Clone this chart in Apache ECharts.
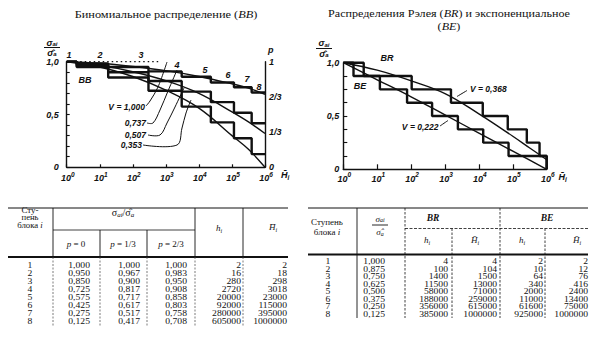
<!DOCTYPE html>
<html><head><meta charset="utf-8">
<script src="https://cdn.jsdelivr.net/npm/echarts@6.0.0/dist/echarts.min.js"></script>
<style>html,body{margin:0;padding:0;background:#fff;overflow:hidden}#c{width:598px;height:362px}</style>
</head><body><div id="c"></div><script>
// ===== DATA =====
const stepNumbers = [1,2,3,4,5,6,7,8];
// Binomial distribution (BB)
const bbRatioP0  = [1.000,0.950,0.850,0.725,0.575,0.425,0.275,0.125];
const bbRatioP13 = [1.000,0.967,0.900,0.817,0.717,0.617,0.517,0.417];
const bbRatioP23 = [1.000,0.983,0.950,0.908,0.858,0.803,0.758,0.708];
const bbH    = [2,16,280,2720,20000,92000,280000,605000];
const bbHcum = [2,18,298,3018,23000,115000,395000,1000000];
// Rayleigh (BR) and exponential (BE)
const reRatio = [1.000,0.875,0.750,0.625,0.500,0.375,0.250,0.125];
const brH    = [4,100,1400,11500,58000,188000,356000,385000];
const brHcum = [4,104,1500,13000,71000,259000,615000,1000000];
const beH    = [2,10,64,340,2000,11000,61600,925000];
const beHcum = [2,12,76,416,2400,13400,75000,1000000];
// smooth curves
const curveH     = [1,10,100,1000,10000,100000,316000,1000000];
const bbCurve737 = [1.000,0.985,0.955,0.915,0.860,0.790,0.750,0.690];
const bbCurve507 = [1.000,0.965,0.905,0.820,0.700,0.525,0.430,0.320];
const bbCurve353 = [1.000,0.950,0.860,0.730,0.560,0.300,0.170,0.000];
const bbLineV1H  = [1,700];
const bbLineV1   = [1.000,1.000];
const brCurve    = [1.000,0.930,0.830,0.710,0.520,0.310,0.200,0.090];
const beCurve    = [1.000,0.840,0.680,0.510,0.340,0.170,0.085,0.000];
// labels
const bbVLabels = ['V = 1,000','0,737','0,507','0,353'];
const reVLabels = ['V = 0,368','V = 0,222'];
const pTickLabels = ['0','1/3','2/3','1'];
const titleBB = ['Биномиальное распределение (', 'BB', ')'];
const titleRE1 = ['Распределения Рэлея (', 'BR', ') и экспоненциальное'];
const titleRE2 = ['(', 'BE', ')'];

// ===== HELPERS =====
const SERIF = '"Liberation Serif","DejaVu Serif",serif';
const SANS = '"Liberation Sans","DejaVu Sans",sans-serif';
const INK = '#111';
const fmt3 = v => v.toFixed(3).replace('.', ',');
function stairs(hcum, vals, dropToZero) {
  const d = [[1, vals[0]]];
  for (let i = 1; i < vals.length; i++) d.push([hcum[i-1], vals[i]]);
  d.push([hcum[hcum.length-1], vals[vals.length-1]]);
  if (dropToZero) d.push([hcum[hcum.length-1], 0]);
  return d;
}
const pairs = (xs, ys) => xs.map((x, i) => [x, ys[i]]);

const G = [];
function txt(x, y, text, o) {
  o = o || {};
  const st = {text: text, fill: o.fill || INK, font: o.font || ('9.5px ' + SERIF),
    align: o.align || 'center', verticalAlign: o.va || 'middle',
    textAlign: o.align || 'center', textVerticalAlign: o.va || 'middle'};
  if (o.rich) st.rich = o.rich;
  const el = {type: 'text', x: x, y: y, z: 20, silent: true, style: st};
  if (o.sx) el.scaleX = o.sx;
  G.push(el);
}
function line(x1, y1, x2, y2, w, dash, color) {
  G.push({type: 'line', z: 20, silent: true, shape: {x1, y1, x2, y2},
    style: {stroke: color || INK, lineWidth: w || 1, lineDash: dash || null}});
}
function poly(points, w) {
  G.push({type: 'polyline', z: 20, silent: true, shape: {points: points, smooth: 0.35},
    style: {stroke: INK, lineWidth: w || 1, fill: null}});
}
function subRich(size, fam, italicBase, bold, lh) {
  const fw = bold ? 'bold' : 'normal';
  const L = lh || (size + 3);
  const ss = Math.round(size * 0.68);
  return {
    n: {fontSize: size, fontFamily: fam, fontStyle: italicBase ? 'italic' : 'normal', fontWeight: fw, lineHeight: L, verticalAlign: 'middle', color: INK},
    i: {fontSize: size, fontFamily: fam, fontStyle: 'italic', fontWeight: fw, lineHeight: L, verticalAlign: 'middle', color: INK},
    s: {fontSize: ss, fontFamily: fam, fontStyle: 'italic', fontWeight: fw, lineHeight: ss, verticalAlign: 'bottom', color: INK}
  };
}

// ===== TITLES =====
const titleRich = {n: {fontSize: 11, fontFamily: SERIF, color: INK, lineHeight: 11},
                   i: {fontSize: 11, fontFamily: SERIF, fontStyle: 'italic', color: INK, lineHeight: 11}};
txt(166, 15, '{n|' + titleBB[0] + '}{i|' + titleBB[1] + '}{n|' + titleBB[2] + '}', {rich: titleRich, sx: 1.12});
txt(449, 13.5, '{n|' + titleRE1[0] + '}{i|' + titleRE1[1] + '}{n|' + titleRE1[2] + '}', {rich: titleRich, sx: 1.1});
txt(449, 26.8, '{n|' + titleRE2[0] + '}{i|' + titleRE2[1] + '}{n|' + titleRE2[2] + '}', {rich: titleRich, sx: 1.1});

// ===== AXIS TITLES (fraction) =====
const axRich = subRich(9, SANS, true, true, 9);
function fracTitle(cx, yTop, yBar, yBot) {
  txt(cx, yTop, '{n|σ}{s|ai}', {rich: axRich});
  line(cx - 8, yBar, cx + 8, yBar, 1);
  txt(cx, yBot, '{n|σ\u0302}{s|a}', {rich: axRich});
}
fracTitle(52, 42.5, 47.5, 52.5);
fracTitle(324, 43, 48.5, 53.5);

// ===== ANNOTATIONS =====
const annFont = 'italic bold 9px ' + SANS;
txt(85, 80, 'BB', {font: annFont});
txt(387, 58, 'BR', {font: annFont});
txt(360, 86, 'BE', {font: annFont});
txt(268, 50, 'p', {font: annFont, align: 'left'});
const stepLabelPx = [[69,55],[100,55],[141,55],[177,65],[205,70],[228,75],[247,79],[259,87]];
stepNumbers.forEach((n, i) => txt(stepLabelPx[i][0], stepLabelPx[i][1], String(n), {font: annFont}));
const vFont = 'italic bold 8.5px ' + SANS;
txt(145, 107, bbVLabels[0], {font: vFont, align: 'right'});
txt(146, 123, bbVLabels[1], {font: vFont, align: 'right'});
txt(146, 134.5, bbVLabels[2], {font: vFont, align: 'right'});
txt(142, 145, bbVLabels[3], {font: vFont, align: 'right'});
poly([[146,106],[150,101],[158,87],[167,62]], 1);
poly([[147,123],[153,123],[160,110],[168,91],[177,70]], 1);
poly([[148,135],[160,135],[167,123],[175,107],[184,88]], 1);
poly([[143,145],[177,145],[182,128],[186,113],[191,100]], 1);
txt(470, 88.5, reVLabels[0], {font: vFont, align: 'left'});
poly([[467,90.5],[457,96.5]], 1);
txt(438.5, 126.5, reVLabels[1], {font: vFont, align: 'right'});
poly([[440,126],[448,120.5]], 1);

// ===== TABLES =====
// left table
(function () {
  const cellFont = '7.8px ' + SERIF, SX = 1.24;
  const x0 = 8, x1 = 288, top = 208, hsep = 230, thick = 257, bot = 326;
  line(x0, top, x1, top, 1);
  line(53, hsep, 195, hsep, 0.8);
  line(x0, thick, x1, thick, 2.2);
  [53, 195, 243].forEach(x => line(x, top, x, thick, 0.9));
  [100, 147].forEach(x => line(x, hsep, x, thick, 0.9));
  [53, 100, 147, 195, 243].forEach(x => line(x, thick, x, bot, 0.7, [2, 1.5], '#444'));
  txt(30, 210.5, 'Сту-', {font: '7.5px ' + SERIF, sx: 1.2});
  txt(30, 218, 'пень', {font: '7.2px ' + SERIF, sx: 1.2});
  txt(30, 225.8, '{n|блока }{i|i}', {rich: subRich(7.3, SERIF, false, false, 7.3), sx: 1.2});
  txt(123, 212, '{n|σ}{s|ai}{n|/σ\u0302}{s|a}', {rich: subRich(10, SERIF, false, false)});
  const pr = subRich(9, SERIF, false, false);
  txt(76, 243.5, '{i|p}{n| = 0}', {rich: pr});
  txt(123, 243.5, '{i|p}{n| = 1/3}', {rich: pr});
  txt(171, 243.5, '{i|p}{n| = 2/3}', {rich: pr});
  txt(219, 228, '{i|h}{s|i}', {rich: pr});
  txt(273, 227, '{i|H\u0304}{s|i}', {rich: pr});
  const cols = [bbRatioP0.map(fmt3), bbRatioP13.map(fmt3), bbRatioP23.map(fmt3), bbH.map(String), bbHcum.map(String)];
  const rights = [90, 140, 187, 241, 287];
  stepNumbers.forEach((n, r) => {
    const y = 265.5 + r * 7.95;
    txt(30, y, String(n), {font: cellFont, sx: SX});
    cols.forEach((c, k) => txt(rights[k], y, c[r], {font: cellFont, align: 'right', sx: SX}));
  });
})();
// right table
(function () {
  const cellFont = '7.4px ' + SERIF, SX = 1.3;
  const x0 = 308, x1 = 588, top = 208, hsep = 228.5, thick = 254.5, bot = 318;
  line(x0, top, x1, top, 1);
  line(405, hsep, x1, hsep, 0.8, [3, 1.5]);
  line(x0, thick, x1, thick, 2.2);
  line(357, top, 357, bot, 0.9);
  [405, 500].forEach(x => line(x, top, x, bot, 0.8, [2.5, 1.5]));
  [452, 545].forEach(x => line(x, hsep, x, bot, 0.8, [2.5, 1.5]));
  txt(327, 221.5, 'Ступень', {font: '9px ' + SERIF});
  txt(327, 232, '{n|блока }{i|i}', {rich: subRich(9, SERIF, false, false, 9)});
  const fr = subRich(9, SERIF, true, false, 9);
  txt(380, 218.5, '{n|σ}{s|ai}', {rich: fr});
  line(372, 225, 388, 225, 0.9);
  txt(380, 232, '{n|σ\u0302}{s|a}', {rich: fr});
  txt(433, 218, 'BR', {font: 'italic bold 9.5px ' + SERIF});
  txt(547, 218, 'BE', {font: 'italic bold 9.5px ' + SERIF});
  const pr = subRich(9, SERIF, false, false);
  txt(427, 239.5, '{i|h}{s|i}', {rich: pr});
  txt(475, 239.5, '{i|H\u0304}{s|i}', {rich: pr});
  txt(522, 239.5, '{i|h}{s|i}', {rich: pr});
  txt(577, 239.5, '{i|H\u0304}{s|i}', {rich: pr});
  const cols = [reRatio.map(fmt3), brH.map(String), brHcum.map(String), beH.map(String), beHcum.map(String)];
  const rights = [385, 448, 497, 543, 588];
  stepNumbers.forEach((n, r) => {
    const y = 261.8 + r * 7.5;
    txt(328, y, String(n), {font: cellFont, sx: SX});
    cols.forEach((c, k) => txt(rights[k], y, c[r], {font: cellFont, align: 'right', sx: SX}));
  });
})();

// ===== AXES =====
const axLabelRich = {
  b: {fontSize: 9, fontStyle: 'italic', fontWeight: 'bold', fontFamily: SANS, color: INK, lineHeight: 12, verticalAlign: 'bottom'},
  s: {fontSize: 6.5, fontStyle: 'italic', fontWeight: 'bold', fontFamily: SANS, color: INK, lineHeight: 7, verticalAlign: 'top'}
};
const nameRich = {
  h: {fontSize: 9, fontStyle: 'italic', fontWeight: 'bold', fontFamily: SANS, color: INK, lineHeight: 12},
  s: {fontSize: 6.5, fontStyle: 'italic', fontWeight: 'bold', fontFamily: SANS, color: INK, lineHeight: 7, verticalAlign: 'bottom'}
};
function xAx(gi, tickLen, pad, gap, margin) {
  return {
    type: 'log', logBase: 10, min: 1, max: 1e6, gridIndex: gi,
    axisLine: {show: true, lineStyle: {color: INK, width: 1.4}},
    axisTick: {show: true, inside: true, length: tickLen, lineStyle: {color: INK, width: 1.2}},
    splitLine: {show: false},
    axisLabel: {margin: margin, padding: [0, 0, 0, pad],
      formatter: v => '{b|10}{s|' + Math.round(Math.log10(v)) + '}', rich: axLabelRich},
    name: '{h|H\u0304}{s|i}', nameLocation: 'end', nameGap: gap,
    nameTextStyle: {verticalAlign: 'top', padding: [2, 0, 0, 0], rich: nameRich}
  };
}
const yLabelFont = {fontSize: 9, fontStyle: 'italic', fontWeight: 'bold', fontFamily: SANS, color: INK};
function yFmt(v) {
  if (Math.abs(v) < 1e-6) return '0';
  if (Math.abs(v - 0.5) < 1e-6) return '0,5';
  if (Math.abs(v - 1) < 1e-6) return '1,0';
  return '';
}
function yAx(gi, interval, tickLen, margin) {
  return {
    type: 'value', gridIndex: gi, min: 0, max: 1, interval: interval,
    axisLine: {show: true, lineStyle: {color: INK, width: 1.4}},
    axisTick: {show: true, inside: true, length: tickLen, lineStyle: {color: INK, width: 1.1}},
    splitLine: {show: false},
    axisLabel: Object.assign({formatter: yFmt, margin: margin}, yLabelFont)
  };
}
const pAxis = {
  type: 'value', gridIndex: 0, position: 'right', min: 0, max: 1, interval: 1 / 3,
  axisLine: {show: true, onZero: false, lineStyle: {color: INK, width: 1.4}},
  axisTick: {show: false}, splitLine: {show: false},
  axisLabel: Object.assign({margin: 4, formatter: v => pTickLabels[Math.round(v * 3)] || ''}, yLabelFont)
};

// ===== SERIES =====
function ln(xi, yi, data, width, extra) {
  return Object.assign({type: 'line', xAxisIndex: xi, yAxisIndex: yi, data: data, showSymbol: false, symbol: 'none',
    clip: false, silent: true, animation: false, lineStyle: {color: INK, width: width}}, extra || {});
}
const series = [
  ln(0, 0, stairs(bbHcum, bbRatioP0, false), 2.4, {step: 'end'}),
  ln(0, 0, stairs(bbHcum, bbRatioP13, false), 2.4, {step: 'end'}),
  ln(0, 0, stairs(bbHcum, bbRatioP23, false), 2.4, {step: 'end'}),
  ln(0, 0, pairs(curveH, bbCurve737), 1.4, {smooth: 0.4}),
  ln(0, 0, pairs(curveH, bbCurve507), 1.4, {smooth: 0.4}),
  ln(0, 0, pairs(curveH, bbCurve353), 1.4, {smooth: 0.4}),
  ln(0, 0, pairs(bbLineV1H, bbLineV1), 1.3, {lineStyle: {color: INK, width: 1.3, type: [1.5, 3]}}),
  ln(1, 2, stairs(brHcum, reRatio, true), 2.4, {step: 'end'}),
  ln(1, 2, stairs(beHcum, reRatio, true), 2.4, {step: 'end'}),
  ln(1, 2, pairs(curveH, brCurve), 1.4, {smooth: 0.4}),
  ln(1, 2, pairs(curveH, beCurve), 1.4, {smooth: 0.4})
];

const chart = echarts.init(document.getElementById('c'), null, {renderer: 'svg', width: 598, height: 362});
chart.setOption({
  animation: false,
  backgroundColor: '#fff',
  grid: [
    {left: 66.7, top: 61.7, width: 198.3, height: 105.6},
    {left: 343.3, top: 62.7, width: 203.4, height: 106.6}
  ],
  xAxis: [xAx(0, 3, 2, 16, 3.5), xAx(1, 5, 2, 9, 2)],
  yAxis: [yAx(0, 0.1, 3, 8), pAxis, yAx(1, 0.125, 4, 4)],
  series: series,
  graphic: {elements: G}
});
</script></body></html>
